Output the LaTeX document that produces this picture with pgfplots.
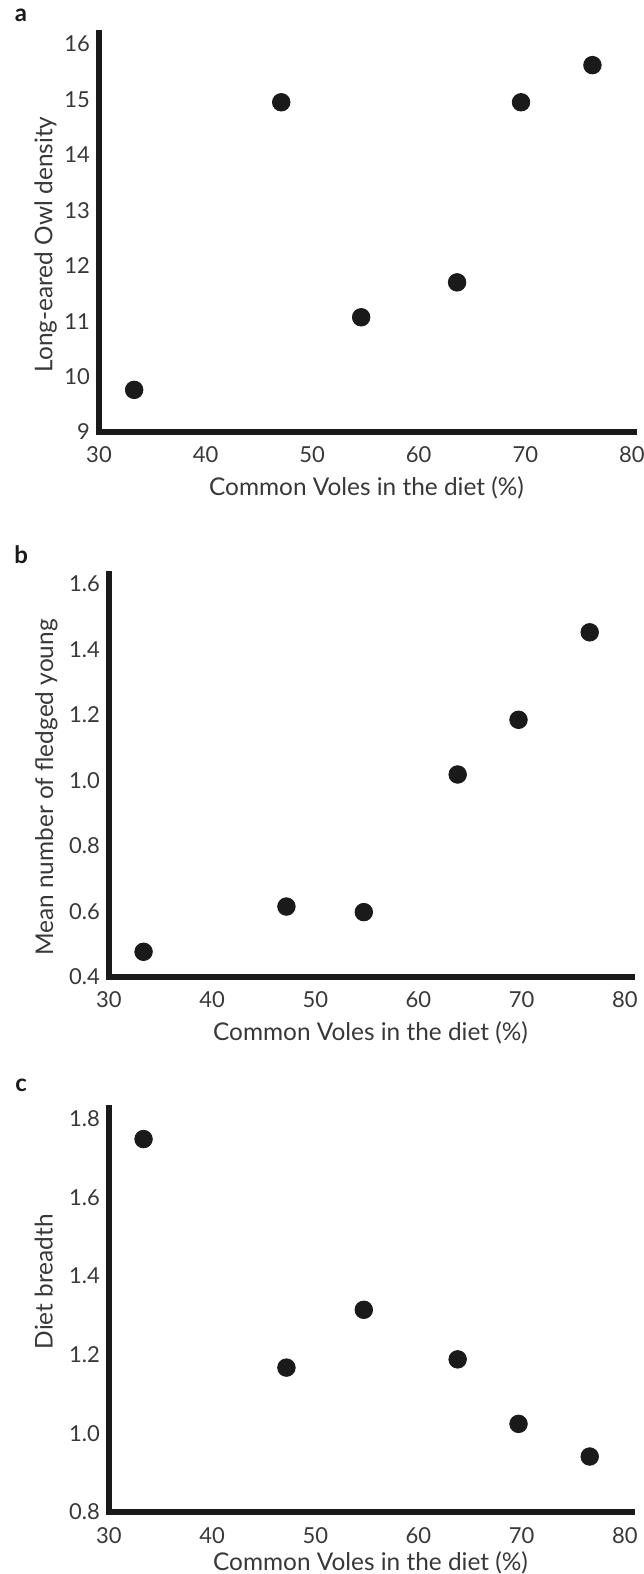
\documentclass[border=0pt]{standalone}
\usepackage{pgfplots}
\pgfplotsset{compat=1.18}
\usepackage{fontspec}
\setmainfont{Lato}
\definecolor{ink}{HTML}{1A1A1A}
\definecolor{txt}{HTML}{383838}

\pgfplotsset{
  owl/.style={
    scale only axis,
    anchor=south west,
    axis x line=bottom,
    axis y line=left,
    axis line style={-, line width=2.6pt, ink, line cap=rect},
    major tick length=0pt,
    xmin=30,
    xtick={30,40,...,80},
    tick label style={font=\fontsize{11}{12}\selectfont, txt},
    /pgf/number format/assume math mode=true,
    xticklabel style={yshift=-4pt},
    yticklabel style={xshift=-1pt},
    label style={font=\fontsize{12.2}{14}\selectfont, txt},
    xlabel={Common Voles in the diet (\%)},
    clip=false,
  },
  dots/.style={only marks, mark=*, mark size=4.4pt, mark options={fill=ink, draw=ink}},
}

\begin{document}
\begin{tikzpicture}
\path[use as bounding box] (0,0) rectangle (321.5pt,787pt);

% panel a
\begin{axis}[owl,
  at={(49.5pt,571pt)}, width=267.5pt, height=199.5pt,
  xmax=80.2, ymin=9, ymax=16.2,
  ytick={9,10,...,16},
  ylabel={Long-eared Owl density},
  ylabel style={at={(axis description cs:-0.1,0.47)}, anchor=center},
  xlabel style={at={(axis description cs:0.5,-0.14)}, anchor=center},
]
  \addplot[dots] coordinates {(33.3,9.76) (47.1,14.95) (54.6,11.07) (63.6,11.70) (69.6,14.95) (76.3,15.62)};
  \node[font=\bfseries\fontsize{12}{13}\selectfont, ink] at (rel axis cs:-0.146,1.045) {a};
\end{axis}

% panel b
\begin{axis}[owl,
  at={(54.5pt,298.5pt)}, width=261.5pt, height=201.5pt,
  xmax=80.7, ymin=0.4, ymax=1.63,
  ytick={0.4,0.6,...,1.6},
  yticklabel style={/pgf/number format/.cd, fixed, fixed zerofill, precision=1},
  ylabel={Mean number of fledged young},
  ylabel style={at={(axis description cs:-0.12,0.47)}, anchor=center},
  xlabel style={at={(axis description cs:0.5,-0.139)}, anchor=center},
]
  \addplot[dots] coordinates {(33.35,0.477) (47.2,0.615) (54.7,0.598) (63.8,1.018) (69.7,1.185) (76.6,1.452)};
  \node[font=\bfseries\fontsize{12}{13}\selectfont, ink] at (rel axis cs:-0.168,1.047) {b};
\end{axis}

% panel c
\begin{axis}[owl,
  at={(54.5pt,31pt)}, width=261.5pt, height=202pt,
  xmax=80.7, ymin=0.8, ymax=1.827,
  ytick={0.8,1.0,...,1.8},
  yticklabel style={/pgf/number format/.cd, fixed, fixed zerofill, precision=1},
  ylabel={Diet breadth},
  ylabel style={at={(axis description cs:-0.125,0.57)}, anchor=center},
  xlabel style={at={(axis description cs:0.5,-0.126)}, anchor=center},
]
  \addplot[dots] coordinates {(33.35,1.748) (47.2,1.167) (54.7,1.314) (63.8,1.188) (69.7,1.024) (76.6,0.941)};
  \node[font=\bfseries\fontsize{12}{13}\selectfont, ink] at (rel axis cs:-0.168,1.057) {c};
\end{axis}
\end{tikzpicture}
\end{document}
